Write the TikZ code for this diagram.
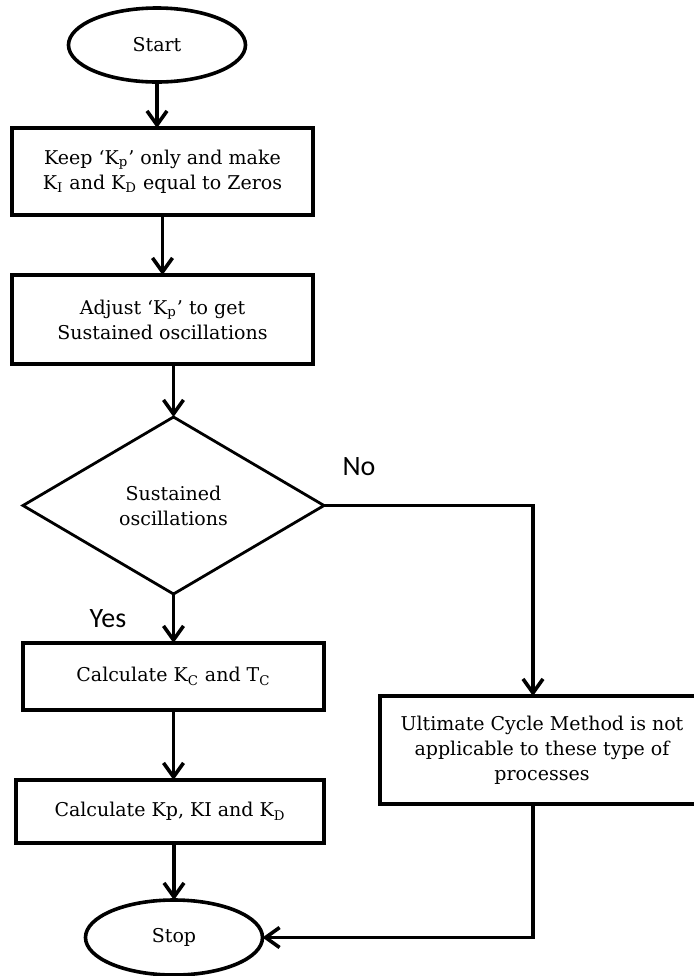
\documentclass[tikz,border=0pt]{standalone}
\usepackage{fontspec}
\setmainfont{DejaVu Serif}
\newfontfamily\labelfont{Carlito}
\usetikzlibrary{arrows.meta,positioning,shapes.geometric}

\begin{document}
\begin{tikzpicture}[
  font=\fontsize{9.5}{12.5}\selectfont,
  box/.style={draw, line width=1.8pt, align=center, inner sep=2pt, outer sep=0pt, minimum width=150.5pt},
  term/.style={draw, ellipse, line width=1.8pt, inner sep=0pt, outer sep=0pt, minimum width=88.5pt, minimum height=37pt},
  decision/.style={draw, diamond, line width=1.4pt, align=center, aspect=1.7, inner sep=0pt, outer sep=0pt, minimum width=150.5pt, minimum height=88.5pt},
  lbl/.style={font=\labelfont\fontsize{14}{16}\selectfont, inner sep=0pt},
  arr/.style={-{Straight Barb[length=7pt,width=10pt]}, line width=1.8pt}
]
\useasboundingbox (-78.5pt,22.5pt) rectangle (268.5pt,-465.5pt);
\clip (-78.5pt,22.5pt) rectangle (268.5pt,-465.5pt);
\node[term] (start) {Start};
\node[box, minimum height=43.5pt, below=23pt of start, xshift=2.75pt] (keep) {Keep ‘K\textsubscript{p}’ only and make\\K\textsubscript{I} and K\textsubscript{D} equal to Zeros};
\node[box, minimum height=44.5pt, below=30pt of keep] (adjust) {Adjust ‘K\textsubscript{p}’ to get\\Sustained oscillations};
\node[decision, below=26.5pt of adjust, xshift=5.5pt] (sust) {Sustained\\oscillations};
\node[box, minimum height=33.5pt, below=24.5pt of sust] (kc) {Calculate K\textsubscript{C} and T\textsubscript{C}};
\node[box, minimum width=154pt, minimum height=31.5pt, below=35pt of kc, xshift=-1.75pt] (kp) {Calculate Kp, KI and K\textsubscript{D}};
\node[term, minimum height=37.5pt, below=28.5pt of kp, xshift=2pt] (stop) {Stop};
\node[box, minimum width=162pt, minimum height=54pt, right=28pt of kc.north east, anchor=north west, yshift=-26.5pt] (ult) {Ultimate Cycle Method is not\\applicable to these type of\\processes};
\node[lbl] (no) at ([xshift=17.5pt, yshift=19.5pt]sust.east) {No};
\node[lbl] (yes) at ([xshift=-32.75pt, yshift=-12.5pt]sust.south) {Yes};
\draw[arr] (start) -- (start |- keep.north);
\draw[arr] (keep) -- (adjust);
\draw[arr] (adjust.south -| sust) -- (sust);
\draw[arr] (sust) -- (kc);
\draw[arr] (kc) -- (kc |- kp.north);
\draw[arr] (kp.south -| stop) -- (stop);
\draw[arr] (sust.east) -| ([xshift=-4.5pt]ult.north);
\draw[arr] ([xshift=-4.5pt]ult.south) |- (stop.east);
\end{tikzpicture}
\end{document}
